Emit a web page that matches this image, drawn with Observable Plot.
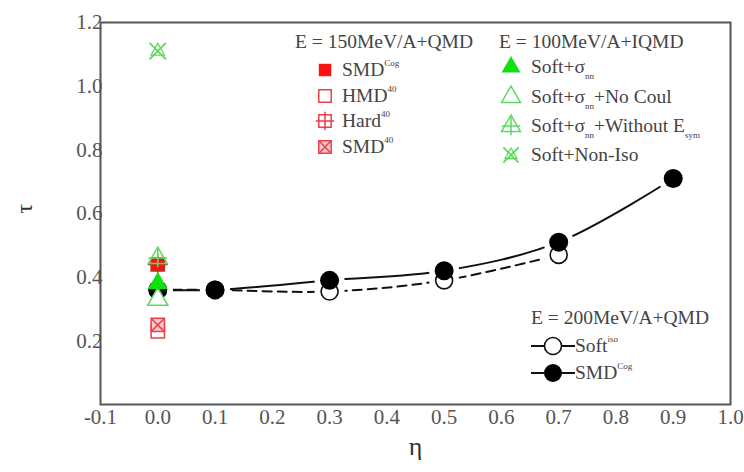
<!DOCTYPE html>
<html><head><meta charset="utf-8">
<script src="https://cdn.jsdelivr.net/npm/d3@7"></script>
<script src="https://cdn.jsdelivr.net/npm/@observablehq/plot@0.6"></script>
<style>
body{margin:0;background:#fff;}
#wrap{position:relative;width:744px;height:472px;font-family:"Liberation Serif","Times New Roman",serif;color:#444;}
#wrap .lg{position:absolute;font-size:19.5px;line-height:20px;white-space:nowrap;}
#wrap sup{font-size:9px;vertical-align:10px;line-height:0;}
#wrap sub{font-size:9px;vertical-align:-6px;line-height:0;}
#leg{position:absolute;left:0;top:0;}
</style></head>
<body><div id="wrap"></div>
<script>
// ---- data ----
const xTicks = [-0.1, 0.0, 0.1, 0.2, 0.3, 0.4, 0.5, 0.6, 0.7, 0.8, 0.9, 1.0];
const xTickLabels = ["-0.1","0.0","0.1","0.2","0.3","0.4","0.5","0.6","0.7","0.8","0.9","1.0"];
const yTicks = [0.2, 0.4, 0.6, 0.8, 1.0, 1.2];
const yTickLabels = ["0.2","0.4","0.6","0.8","1.0","1.2"];

// E = 200MeV/A + QMD
const etaSMD = [0.0, 0.1, 0.3, 0.5, 0.7, 0.9];
const tauSMD = [0.36, 0.36, 0.39, 0.42, 0.51, 0.71];
const etaSoft = [0.0, 0.1, 0.3, 0.5, 0.7];
const tauSoft = [0.36, 0.36, 0.355, 0.39, 0.47];

// E = 150MeV/A + QMD  (eta = 0)
const q150Names = ["SMD<sup>Cog</sup>", "HMD<sup>40</sup>", "Hard<sup>40</sup>", "SMD<sup>40</sup>"];
const q150Tau = [0.44, 0.23, 0.44, 0.25];

// E = 100MeV/A + IQMD (eta = 0)
const q100Names = ["Soft+σ<sub>nn</sub>", "Soft+σ<sub>nn</sub>+No Coul", "Soft+σ<sub>nn</sub>+Without E<sub>sym</sub>", "Soft+Non-Iso"];
const q100Tau = [0.38, 0.33, 0.46, 1.11];

const legend200Names = ["Soft<sup>iso</sup>", "SMD<sup>Cog</sup>"];

// ---- styles ----
const RED = "#ff1010", RED2 = "#e8404c", GREEN = "#10e010", GREEN2 = "#60d860";
const FONT = "'Liberation Serif', 'Times New Roman', serif";

const smd = etaSMD.map((x,i)=>({x, y: tauSMD[i]}));
const soft = etaSoft.map((x,i)=>({x, y: tauSoft[i]}));
const q150 = q150Tau.map((y,i)=>({x:0, y, k:i}));
const q100 = q100Tau.map((y,i)=>({x:0, y, k:i}));

const chart = Plot.plot({
  width: 744, height: 472,
  marginLeft: 100, marginRight: 14, marginTop: 22, marginBottom: 68,
  x: {domain: [-0.1, 1.0]},
  y: {domain: [0, 1.2]},
  style: {fontFamily: FONT, color: "#555", background: "white"},
  marks: [
    Plot.axisX({ticks: xTicks, tickSize: 0, tickPadding: 5, fontSize: 21, label: null, fill: "#555", fontFamily: FONT,
      tickFormat: d => xTickLabels[xTicks.findIndex(t => Math.abs(t - d) < 1e-9)]}),
    Plot.axisY({ticks: yTicks, tickSize: 0, tickPadding: -2, fontSize: 21, label: null, fill: "#555", fontFamily: FONT,
      tickFormat: d => yTickLabels[yTicks.findIndex(t => Math.abs(t - d) < 1e-9)]}),
    Plot.text(["τ"], {frameAnchor: "left", dx: -76, rotate: -90, fontSize: 24, fill: "#333", fontFamily: FONT}),
    Plot.text(["η"], {frameAnchor: "bottom", dy: 50, fontSize: 26, fill: "#333", fontFamily: FONT}),
    // curves
    Plot.line(soft, {x: "x", y: "y", curve: "catmull-rom", stroke: "#111", strokeWidth: 2, strokeDasharray: "9,6"}),
    Plot.line(smd, {x: "x", y: "y", curve: "catmull-rom", stroke: "#111", strokeWidth: 2}),
    // white halos producing gaps
    Plot.dot(soft, {x: "x", y: "y", r: 15, fill: "white"}),
    Plot.dot(smd, {x: "x", y: "y", r: 15, fill: "white"}),
    Plot.dot(soft, {x: "x", y: "y", r: 8.5, fill: "white", stroke: "#111", strokeWidth: 1.6}),
    Plot.dot(smd, {x: "x", y: "y", r: 9.5, fill: "#000"}),
    // 150 MeV/A QMD markers at eta = 0
    Plot.dot(q150.filter(d => d.k === 1), {x: "x", y: "y", symbol: "square", r: 7.5, fill: "white", stroke: RED2, strokeWidth: 1.5}),
    Plot.dot(q150.filter(d => d.k === 3), {x: "x", y: "y", symbol: "square", r: 7.5, fill: "#f8c8cc", stroke: RED2, strokeWidth: 1.5}),
    Plot.dot(q150.filter(d => d.k === 3), {x: "x", y: "y", symbol: "times", r: 5.5, stroke: RED2, strokeWidth: 1.5}),
    Plot.dot(q150.filter(d => d.k === 0), {x: "x", y: "y", symbol: "square", r: 7.5, fill: RED}),
    Plot.dot(q150.filter(d => d.k === 2), {x: "x", y: "y", symbol: "square", r: 7.5, fill: "none", stroke: "#c03020", strokeWidth: 1.5}),
    Plot.dot(q150.filter(d => d.k === 2), {x: "x", y: "y", symbol: "plus", r: 6.5, stroke: "#c03020", strokeWidth: 1.5}),
    // 100 MeV/A IQMD markers at eta = 0
    Plot.dot(q100.filter(d => d.k === 1), {x: "x", y: "y", symbol: "triangle", r: 7.5, fill: "white", stroke: GREEN2, strokeWidth: 1.5}),
    Plot.dot(q100.filter(d => d.k === 2), {x: "x", y: "y", symbol: "triangle", r: 7, fill: "none", stroke: GREEN2, strokeWidth: 1.5}),
    Plot.dot(q100.filter(d => d.k === 2), {x: "x", y: "y", symbol: "plus", r: 6, stroke: GREEN2, strokeWidth: 1.5}),
    Plot.dot(q100.filter(d => d.k === 0), {x: "x", y: "y", symbol: "triangle", r: 7.5, fill: GREEN}),
    Plot.dot(q100.filter(d => d.k === 3), {x: "x", y: "y", symbol: "times", r: 7.5, stroke: GREEN2, strokeWidth: 1.8}),
    Plot.dot(q100.filter(d => d.k === 3), {x: "x", y: "y", symbol: "triangle", r: 5, fill: "none", stroke: GREEN2, strokeWidth: 1.3}),
    Plot.frame({stroke: "#555", strokeWidth: 2})
  ]
});
const wrap = document.getElementById("wrap");
wrap.appendChild(chart);

// ---- legends (overlay) ----
const ns = "http://www.w3.org/2000/svg";
const leg = document.createElementNS(ns, "svg");
leg.setAttribute("id", "leg"); leg.setAttribute("width", 744); leg.setAttribute("height", 472);
wrap.appendChild(leg);
function sym(type, area, cx, cy, attrs) {
  const p = document.createElementNS(ns, "path");
  p.setAttribute("d", d3.symbol(type, area)());
  p.setAttribute("transform", `translate(${cx},${cy})`);
  for (const k in attrs) p.setAttribute(k, attrs[k]);
  leg.appendChild(p);
}
function line(x1, x2, y, dash) {
  const l = document.createElementNS(ns, "line");
  l.setAttribute("x1", x1); l.setAttribute("x2", x2); l.setAttribute("y1", y); l.setAttribute("y2", y);
  l.setAttribute("stroke", "#111"); l.setAttribute("stroke-width", 2);
  if (dash) l.setAttribute("stroke-dasharray", dash);
  leg.appendChild(l);
}
function label(html, x, y) {
  const d = document.createElement("div");
  d.className = "lg"; d.innerHTML = html;
  d.style.left = x + "px"; d.style.top = (y - 10) + "px";
  wrap.appendChild(d);
}
const A = r => Math.PI * r * r;
// legend 1
label("E = 150MeV/A+QMD", 295, 42);
const l1y = [70, 96, 121, 147];
sym(d3.symbolSquare, A(7), 325, l1y[0], {fill: RED});
sym(d3.symbolSquare, A(7), 325, l1y[1], {fill: "white", stroke: RED2, "stroke-width": 1.5});
sym(d3.symbolSquare, A(7), 325, l1y[2], {fill: "none", stroke: RED2, "stroke-width": 1.5});
sym(d3.symbolPlus, A(6), 325, l1y[2], {fill: "none", stroke: RED2, "stroke-width": 1.5});
sym(d3.symbolSquare, A(7), 325, l1y[3], {fill: "#f8c8cc", stroke: RED2, "stroke-width": 1.5});
sym(d3.symbolTimes, A(5), 325, l1y[3], {fill: "none", stroke: RED2, "stroke-width": 1.5});
q150Names.forEach((n, i) => label(n, 342, l1y[i]));
// legend 2
label("E = 100MeV/A+IQMD", 499, 42);
const l2y = [67, 97, 126, 155];
sym(d3.symbolTriangle, A(7), 511, l2y[0], {fill: GREEN});
sym(d3.symbolTriangle, A(7), 511, l2y[1], {fill: "white", stroke: GREEN2, "stroke-width": 1.5});
sym(d3.symbolTriangle, A(7), 511, l2y[2], {fill: "none", stroke: GREEN2, "stroke-width": 1.5});
sym(d3.symbolPlus, A(6), 511, l2y[2], {fill: "none", stroke: GREEN2, "stroke-width": 1.5});
sym(d3.symbolTimes, A(7), 511, l2y[3], {fill: "none", stroke: GREEN2, "stroke-width": 1.8});
sym(d3.symbolTriangle, A(4.5), 511, l2y[3], {fill: "none", stroke: GREEN2, "stroke-width": 1.3});
q100Names.forEach((n, i) => label(n, 531, l2y[i]));
// legend 3
label("E = 200MeV/A+QMD", 531, 318);
const l3y = [346, 373];
line(531, 575, l3y[0], "9,6");
sym(d3.symbolCircle, A(15), 553, l3y[0], {fill: "white"});
line(535, 575, l3y[0]);
line(531, 575, l3y[1]);
sym(d3.symbolCircle, A(8.5), 553, l3y[0], {fill: "white", stroke: "#111", "stroke-width": 1.6});
sym(d3.symbolCircle, A(9), 553, l3y[1], {fill: "#000"});
legend200Names.forEach((n, i) => label(n, 575, l3y[i]));
</script></body></html>
